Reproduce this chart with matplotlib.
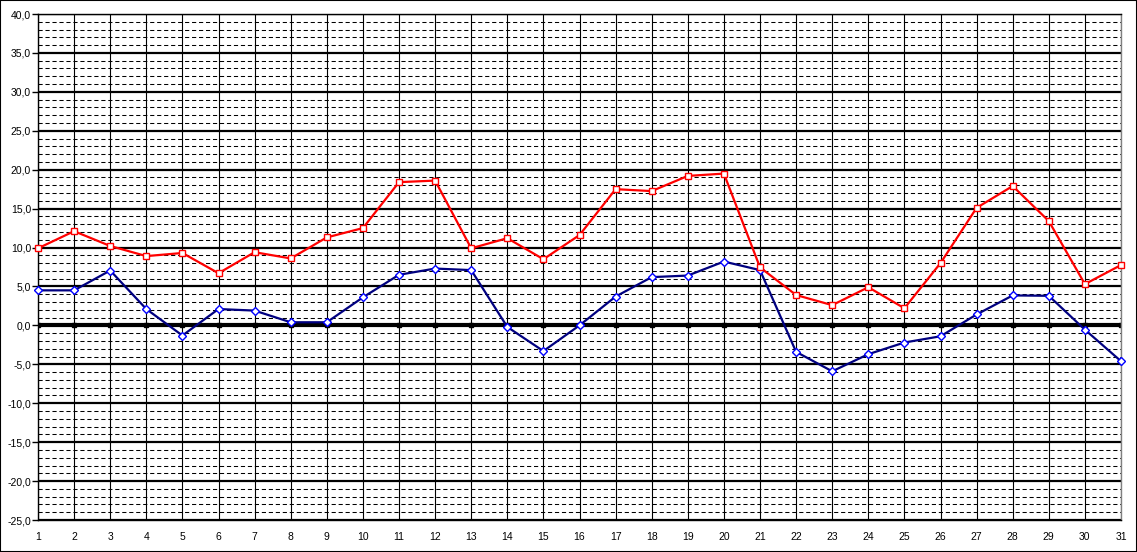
import matplotlib
matplotlib.use('Agg')
import matplotlib.pyplot as plt
from matplotlib.patches import Rectangle
from matplotlib.ticker import MultipleLocator, FuncFormatter

plt.rcParams['font.family'] = ['Liberation Sans', 'DejaVu Sans']

# day of month
days = list(range(1, 32))

# max temperature (red)
t_max = [9.9, 12.1, 10.2, 8.9, 9.3, 6.7, 9.4, 8.6, 11.3, 12.5,
         18.4, 18.6, 9.9, 11.2, 8.5, 11.6, 17.5, 17.25, 19.2, 19.5,
         7.45, 3.9, 2.6, 4.9, 2.2, 8.0, 15.1, 17.9, 13.4, 5.3, 7.75]

# min temperature (blue)
t_min = [4.5, 4.5, 7.05, 2.1, -1.3, 2.1, 1.9, 0.4, 0.4, 3.6,
         6.5, 7.3, 7.1, -0.2, -3.3, 0.0, 3.7, 6.2, 6.4, 8.2,
         7.1, -3.4, -5.9, -3.7, -2.2, -1.4, 1.4, 3.85, 3.8, -0.55, -4.6]

fig = plt.figure(figsize=(11.37, 5.52), dpi=100)
ax = fig.add_axes([38/1137, 1 - 520/552, (1121 - 38)/1137, (520 - 14)/552])

ax.set_xlim(1, 31)
ax.set_ylim(-25, 40)

# grid: minor dashed every 1, major thick every 5, vertical at each day
for v in range(-25, 41):
    if v % 5 == 0:
        ax.axhline(v, color='black', lw=1.6, zorder=1)
    else:
        ax.axhline(v, color='black', lw=0.75, ls=(0, (4, 2.7)), zorder=1)
for d in days:
    ax.axvline(d, color='black', lw=0.8, zorder=1)

# zero line with tick squares
ax.axhline(0, color='black', lw=3, zorder=2)
ax.plot(days, [0] * len(days), ls='none', marker='s', ms=3.5, color='black', zorder=2)

ax.plot(days, t_max, color='#ff0000', lw=1.6, marker='s', ms=5,
        mfc='white', mec='#ff0000', mew=1, zorder=4, clip_on=False)
ax.plot(days, t_min, color='#000080', lw=1.6, marker='D', ms=4.3,
        mfc='white', mec='#0000ff', mew=1, zorder=3, clip_on=False)

ax.yaxis.set_major_locator(MultipleLocator(5))
ax.yaxis.set_major_formatter(FuncFormatter(lambda v, p: ('%.1f' % v).replace('.', ',')))
ax.tick_params(axis='y', length=4, width=1, pad=1, labelsize=7.5, direction='out')
ax.set_xticks(days)
ax.set_xticklabels([str(d) for d in days])
ax.tick_params(axis='x', length=0, pad=9, labelsize=7.5)

for s in ['left', 'bottom', 'top']:
    ax.spines[s].set_color('black')
    ax.spines[s].set_linewidth(1)
ax.spines['right'].set_color('#808080')
ax.spines['right'].set_linewidth(1)

fig.patches.append(Rectangle((0, 0), 1, 1, transform=fig.transFigure,
                             fill=False, edgecolor='black', lw=1.5))

fig.savefig('out.png', dpi=100)
